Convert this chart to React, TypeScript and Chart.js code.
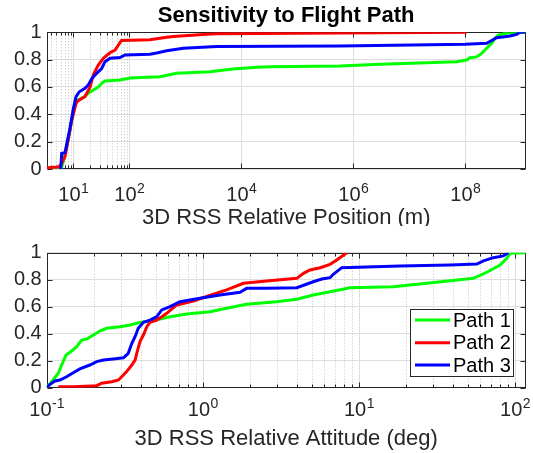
import React, { useEffect, useRef } from "react";
import { Chart, registerables } from "chart.js";

Chart.register(...registerables);

const FONT = '"Liberation Sans", Arial, Helvetica, sans-serif';

// ---------- Top chart data (3D RSS Relative Position, m) ----------
const topXMin = 3.35;
const topXMax = 1.2e9;
const topTickValues = [10, 100, 1e4, 1e6, 1e8];
const topTickExps = ["1", "2", "4", "6", "8"];
const topMinor = [4, 5, 6, 7, 8, 9, 20, 30, 40, 50, 60, 70, 80, 90];

const topPath1X = [3.84, 5.62, 6.03, 6.6, 8.15, 10.0, 11.2, 12.8, 16.2, 18.5, 22.8, 27.9, 32.1, 36.8, 68.2, 103, 353, 702, 2754, 7079, 18836, 32359, 5.79e5, 3.0e6, 7.0e7, 1.06e8, 1.21e8, 1.6e8, 1.96e8, 2.41e8, 2.96e8, 3.39e8, 3.89e8, 5.5e8, 9.48e8, 1.2e9];
const topPath1Y = [0, 0, 0, 0.05, 0.22, 0.42, 0.5, 0.51, 0.53, 0.554, 0.578, 0.6, 0.627, 0.644, 0.651, 0.665, 0.675, 0.7, 0.712, 0.731, 0.744, 0.748, 0.753, 0.766, 0.785, 0.797, 0.814, 0.82, 0.846, 0.883, 0.92, 0.956, 0.98, 0.995, 1.0, 1.0];

const topPath2X = [3.35, 5.4, 5.96, 7.11, 8.15, 9.33, 11.2, 12.3, 16.2, 20.0, 22.8, 27.9, 34.4, 45.2, 55.6, 72.4, 234, 466, 611, 2399, 3631, 1.06e8];
const topPath2Y = [0.01, 0.015, 0.03, 0.09, 0.22, 0.35, 0.48, 0.5, 0.53, 0.6, 0.69, 0.76, 0.81, 0.85, 0.87, 0.94, 0.945, 0.963, 0.97, 0.985, 0.99, 1.0];

const topPath3X = [5.96, 6.21, 7.11, 7.62, 8.73, 10.0, 11.2, 12.8, 16.2, 18.5, 21.3, 26.1, 32.1, 36.8, 45.2, 68.2, 83.8, 234, 308, 466, 920, 3631, 5.79e5, 1e8, 2.41e8, 2.96e8, 3.63e8, 6.28e8, 8.28e8, 9.48e8, 1.2e9];
const topPath3Y = [0, 0.115, 0.12, 0.18, 0.3, 0.44, 0.53, 0.565, 0.59, 0.615, 0.66, 0.7, 0.735, 0.785, 0.81, 0.815, 0.834, 0.84, 0.849, 0.865, 0.883, 0.897, 0.9, 0.912, 0.92, 0.94, 0.96, 0.973, 0.985, 1.0, 1.0];

// ---------- Bottom chart data (3D RSS Relative Attitude, deg) ----------
const botXMin = 0.1;
const botXMax = 117;
const botTickValues = [0.1, 1, 10, 100];
const botTickExps = ["-1", "0", "1", "2"];
const botMinor = [0.2, 0.3, 0.4, 0.5, 0.6, 0.7, 0.8, 0.9, 2, 3, 4, 5, 6, 7, 8, 9, 20, 30, 40, 50, 60, 70, 80, 90];

const botPath1X = [0.1009, 0.1076, 0.1186, 0.1247, 0.133, 0.1445, 0.1556, 0.1675, 0.1803, 0.199, 0.219, 0.242, 0.295, 0.342, 0.396, 0.459, 0.532, 0.617, 0.789, 1.11, 1.42, 1.91, 2.97, 4.0, 5.1, 6.53, 8.77, 16.6, 27.2, 54.1, 65.9, 80.2, 88.5, 92.9, 117];
const botPath1Y = [0.007, 0.044, 0.107, 0.168, 0.242, 0.272, 0.304, 0.353, 0.36, 0.39, 0.42, 0.44, 0.452, 0.464, 0.484, 0.494, 0.509, 0.526, 0.546, 0.563, 0.588, 0.618, 0.637, 0.655, 0.687, 0.711, 0.741, 0.748, 0.773, 0.81, 0.855, 0.909, 0.958, 0.996, 1.0];

const botPath2X = [0.1186, 0.148, 0.209, 0.225, 0.261, 0.288, 0.31, 0.325, 0.351, 0.368, 0.38, 0.396, 0.416, 0.438, 0.459, 0.507, 0.546, 0.587, 0.681, 0.869, 1.17, 1.42, 1.82, 2.56, 4.0, 4.41, 4.86, 5.64, 6.53, 7.21, 8.36];
const botPath2Y = [0.007, 0.007, 0.015, 0.033, 0.044, 0.057, 0.094, 0.119, 0.168, 0.205, 0.267, 0.341, 0.39, 0.452, 0.484, 0.501, 0.526, 0.551, 0.613, 0.642, 0.692, 0.724, 0.773, 0.79, 0.81, 0.847, 0.872, 0.889, 0.914, 0.946, 1.0];

const botPath3X = [0.1, 0.105, 0.113, 0.1216, 0.134, 0.148, 0.163, 0.189, 0.209, 0.231, 0.267, 0.31, 0.333, 0.351, 0.368, 0.386, 0.416, 0.459, 0.507, 0.546, 0.617, 0.714, 0.959, 1.29, 1.73, 1.91, 2.56, 4.0, 5.1, 5.78, 6.53, 6.85, 7.76, 11.2, 18.3, 38.4, 56.9, 62.7, 72.6, 84.1, 90.6];
const botPath3Y = [0, 0.025, 0.05, 0.057, 0.081, 0.111, 0.139, 0.168, 0.193, 0.205, 0.213, 0.222, 0.255, 0.329, 0.378, 0.44, 0.484, 0.501, 0.526, 0.576, 0.6, 0.637, 0.662, 0.687, 0.707, 0.736, 0.736, 0.741, 0.785, 0.805, 0.815, 0.84, 0.889, 0.894, 0.901, 0.909, 0.916, 0.939, 0.963, 0.976, 1.0];

const yTicks = [0, 0.2, 0.4, 0.6, 0.8, 1];
const seriesNames = ["Path 1", "Path 2", "Path 3"];
const seriesColors = ["#00ff00", "#ff0000", "#0000ff"];

const TITLE = "Sensitivity to Flight Path";
const TOP_XLABEL = "3D RSS Relative Position (m)";
const BOT_XLABEL = "3D RSS Relative Attitude (deg)";

const AXIS_COLOR = "#262626";

function pts(xs: number[], ys: number[]) {
  return xs.map((x, i) => ({ x, y: ys[i] }));
}

type FrameCfg = {
  major: number[];
  exps: string[];
  minor: number[];
  labelBaseline: number;
  xlabel: string;
  xlabelBaseline: number;
  title?: string;
  titleBaseline?: number;
  legend?: { left: number; top: number; width: number; height: number; rowY: number[] };
};

function framePlugin(cfg: FrameCfg) {
  return {
    id: "frame",
    beforeDatasetsDraw(chart: any) {
      const { ctx, chartArea: a } = chart;
      const x = chart.scales.x;
      const y = chart.scales.y;
      ctx.save();
      ctx.lineWidth = 1;
      // minor dotted grid
      ctx.strokeStyle = "#c4c4c4";
      ctx.setLineDash([1, 2]);
      for (const v of cfg.minor) {
        const px = Math.round(x.getPixelForValue(v)) + 0.5;
        ctx.beginPath();
        ctx.moveTo(px, a.top);
        ctx.lineTo(px, a.bottom);
        ctx.stroke();
      }
      ctx.setLineDash([]);
      // major grid
      ctx.strokeStyle = "#dedede";
      for (const v of cfg.major) {
        const px = Math.round(x.getPixelForValue(v)) + 0.5;
        ctx.beginPath();
        ctx.moveTo(px, a.top);
        ctx.lineTo(px, a.bottom);
        ctx.stroke();
      }
      // box
      const l = Math.round(a.left) + 0.5;
      const r = Math.round(a.right) - 0.5;
      const t = Math.round(a.top) + 0.5;
      const b = Math.round(a.bottom) - 0.5;
      ctx.strokeStyle = AXIS_COLOR;
      ctx.strokeRect(l, t, r - l, b - t);
      // x ticks (inside, top and bottom)
      ctx.beginPath();
      for (const v of cfg.major) {
        const px = Math.round(x.getPixelForValue(v)) + 0.5;
        ctx.moveTo(px, b);
        ctx.lineTo(px, b - 5);
        ctx.moveTo(px, t);
        ctx.lineTo(px, t + 5);
      }
      for (const v of cfg.minor) {
        const px = Math.round(x.getPixelForValue(v)) + 0.5;
        ctx.moveTo(px, b);
        ctx.lineTo(px, b - 3);
        ctx.moveTo(px, t);
        ctx.lineTo(px, t + 3);
      }
      // y ticks (inside, left and right)
      for (const v of yTicks) {
        const py = Math.round(y.getPixelForValue(v)) + 0.5;
        ctx.moveTo(l, py);
        ctx.lineTo(l + 5, py);
        ctx.moveTo(r, py);
        ctx.lineTo(r - 5, py);
      }
      ctx.stroke();
      ctx.restore();
    },
    afterDatasetsDraw(chart: any) {
      const { ctx, chartArea: a } = chart;
      const x = chart.scales.x;
      ctx.save();
      ctx.fillStyle = AXIS_COLOR;
      ctx.textBaseline = "alphabetic";
      ctx.textAlign = "left";
      // x tick labels: 10^n
      const baseFont = `20px ${FONT}`;
      const supFont = `14px ${FONT}`;
      cfg.major.forEach((v, i) => {
        const px = x.getPixelForValue(v);
        ctx.font = baseFont;
        const wb = ctx.measureText("10").width;
        ctx.font = supFont;
        const ws = ctx.measureText(cfg.exps[i]).width;
        const start = px - (wb + ws) / 2;
        ctx.font = baseFont;
        ctx.fillText("10", start, cfg.labelBaseline);
        ctx.font = supFont;
        ctx.fillText(cfg.exps[i], start + wb + 0.5, cfg.labelBaseline - 8);
      });
      const cx = (a.left + a.right) / 2;
      ctx.textAlign = "center";
      ctx.font = `22px ${FONT}`;
      ctx.fillText(cfg.xlabel, cx, cfg.xlabelBaseline);
      if (cfg.title) {
        ctx.fillStyle = "#000000";
        ctx.font = `bold 22px ${FONT}`;
        ctx.fillText(cfg.title, cx, cfg.titleBaseline);
      }
      if (cfg.legend) {
        const L = cfg.legend;
        ctx.fillStyle = "#ffffff";
        ctx.fillRect(L.left, L.top, L.width, L.height);
        ctx.strokeStyle = AXIS_COLOR;
        ctx.lineWidth = 1;
        ctx.strokeRect(L.left + 0.5, L.top + 0.5, L.width - 1, L.height - 1);
        ctx.textAlign = "left";
        ctx.textBaseline = "middle";
        ctx.font = `20px ${FONT}`;
        seriesNames.forEach((name, i) => {
          const ry = L.rowY[i];
          ctx.strokeStyle = seriesColors[i];
          ctx.lineWidth = 3;
          ctx.beginPath();
          ctx.moveTo(L.left + 5, ry);
          ctx.lineTo(L.left + 40, ry);
          ctx.stroke();
          ctx.fillStyle = "#000000";
          ctx.fillText(name, L.left + 43, ry + 1);
        });
      }
      ctx.restore();
    },
  };
}

function makeConfig(
  datasets: { x: number[]; y: number[] }[],
  xmin: number,
  xmax: number,
  pad: { top: number; right: number },
  yWidth: number,
  xHeight: number,
  frame: FrameCfg
): any {
  return {
    type: "line",
    data: {
      datasets: datasets.map((d, i) => ({
        label: seriesNames[i],
        data: pts(d.x, d.y),
        borderColor: seriesColors[i],
        backgroundColor: seriesColors[i],
        borderWidth: 3,
        pointRadius: 0,
        tension: 0,
        fill: false,
        order: 2 - i,
      })),
    },
    options: {
      animation: false,
      responsive: false,
      devicePixelRatio: 1,
      events: [],
      layout: { padding: { top: pad.top, right: pad.right, left: 0, bottom: 0 } },
      plugins: { legend: { display: false }, tooltip: { enabled: false }, title: { display: false } },
      scales: {
        x: {
          type: "logarithmic",
          min: xmin,
          max: xmax,
          ticks: { display: false },
          grid: { display: false },
          border: { display: false },
          afterFit: (s: any) => {
            s.height = xHeight;
          },
        },
        y: {
          type: "linear",
          min: 0,
          max: 1,
          ticks: {
            stepSize: 0.2,
            padding: 5,
            color: AXIS_COLOR,
            font: { family: FONT, size: 20 },
            callback: (v: number) => String(Math.round(v * 10) / 10),
          },
          grid: { color: "#dedede", lineWidth: 1, drawTicks: false },
          border: { display: false },
          afterFit: (s: any) => {
            s.width = yWidth;
          },
        },
      },
    },
    plugins: [framePlugin(frame)],
  };
}

export default function App() {
  const topRef = useRef<HTMLCanvasElement>(null);
  const botRef = useRef<HTMLCanvasElement>(null);

  useEffect(() => {
    const topChart = new Chart(
      topRef.current as HTMLCanvasElement,
      makeConfig(
        [
          { x: topPath1X, y: topPath1Y },
          { x: topPath2X, y: topPath2Y },
          { x: topPath3X, y: topPath3Y },
        ],
        topXMin,
        topXMax,
        { top: 32.3, right: 7.3 },
        46.7,
        57,
        {
          major: topTickValues,
          exps: topTickExps,
          minor: topMinor,
          labelBaseline: 201,
          xlabel: TOP_XLABEL,
          xlabelBaseline: 224,
          title: TITLE,
          titleBaseline: 21.5,
        }
      )
    );
    const botChart = new Chart(
      botRef.current as HTMLCanvasElement,
      makeConfig(
        [
          { x: botPath1X, y: botPath1Y },
          { x: botPath2X, y: botPath2Y },
          { x: botPath3X, y: botPath3Y },
        ],
        botXMin,
        botXMax,
        { top: 26.7, right: 7.3 },
        46.7,
        65.3,
        {
          major: botTickValues,
          exps: botTickExps,
          minor: botMinor,
          labelBaseline: 190,
          xlabel: BOT_XLABEL,
          xlabelBaseline: 219,
          legend: { left: 410, top: 83, width: 104, height: 68, rowY: [94, 116.7, 139] },
        }
      )
    );
    return () => {
      topChart.destroy();
      botChart.destroy();
    };
  }, []);

  return (
    <div style={{ position: "absolute", left: 0, top: 0, width: 533, height: 453, background: "#ffffff" }}>
      <canvas ref={topRef} width={533} height={226} style={{ position: "absolute", left: 0, top: 0, display: "block" }} />
      <canvas ref={botRef} width={533} height={227} style={{ position: "absolute", left: 0, top: 226, display: "block" }} />
    </div>
  );
}
